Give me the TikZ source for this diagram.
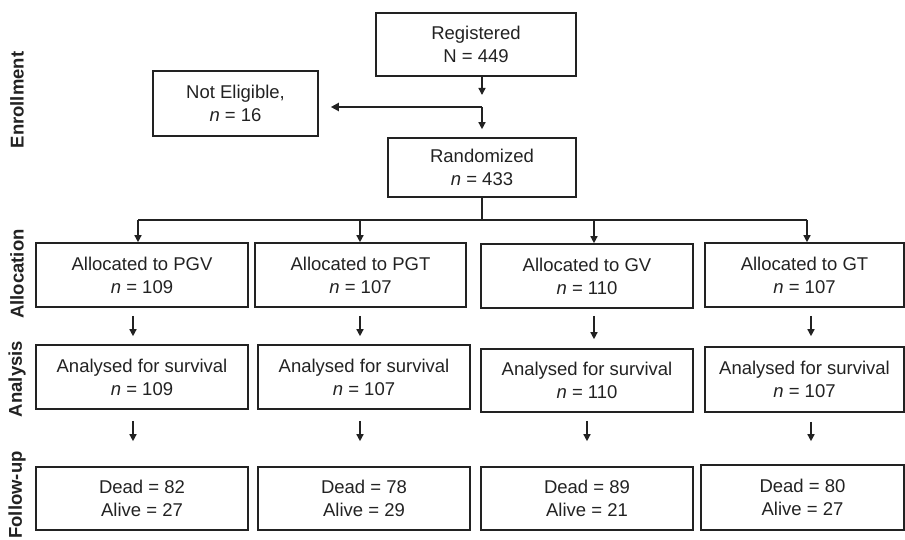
\documentclass[tikz,border=0pt]{standalone}
\usepackage{fontspec}
\setmainfont{Liberation Sans}
\usetikzlibrary{arrows.meta}
\definecolor{ink}{HTML}{222222}
\begin{document}
\begin{tikzpicture}[x=1pt,y=-1pt,
  box/.style={draw=ink, line width=1.6pt, inner sep=0pt, align=center,
    font=\fontsize{18.5}{23}\selectfont, text=ink},
  arr/.style={draw=ink, line width=1.4pt, -{Triangle[length=7pt,width=7pt]}},
  thickarr/.style={draw=ink, line width=2.8pt, -{Triangle[length=8pt,width=8pt]}},
  ln/.style={draw=ink, line width=1.4pt},
  side/.style={rotate=90, font=\fontsize{18.5}{22}\selectfont\bfseries, text=ink}]
\useasboundingbox (0,0) rectangle (905,540);

% side labels
\node[side] (lenr) at (17,100) {Enrollment};
\node[side] (lall) at (17,274) {Allocation};
\node[side] (lana) at (17,379) {Analysis};
\node[side] (lfol) at (17,495) {Follow-up};

% enrollment
\node[box, minimum width=200pt, minimum height=63pt] (reg) at (476,44.5) {Registered\\N = 449};
\node[box, minimum width=165pt, minimum height=65pt] (ne) at (235.5,103.5) {Not Eligible,\\\textit{n} = 16};
\node[box, minimum width=188pt, minimum height=59pt] (rand) at (482,167.5) {Randomized\\\textit{n} = 433};

\coordinate (j) at (482,107);
\draw[arr, shorten >=12pt] (reg.south -| j) -- (j);
\draw[thickarr, shorten >=12pt] (j) -- (ne.east |- j);
\draw[arr, shorten >=8pt] (j) -- (rand.north -| j);

% allocation
\node[box, minimum width=212pt, minimum height=64pt] (a1) at (142,275) {Allocated to PGV\\\textit{n} = 109};
\node[box, minimum width=211pt, minimum height=64pt] (a2) at (360.5,275) {Allocated to PGT\\\textit{n} = 107};
\node[box, minimum width=212pt, minimum height=64pt] (a3) at (587,276) {Allocated to GV\\\textit{n} = 110};
\node[box, minimum width=199pt, minimum height=64pt] (a4) at (804.5,275) {Allocated to GT\\\textit{n} = 107};

\coordinate (split) at (482,220);
\coordinate (d1) at (138,220);
\coordinate (d2) at (360,220);
\coordinate (d3) at (594,220);
\coordinate (d4) at (807,220);
\draw[ln] (rand.south -| split) -- (split);
\draw[ln] (d1) -- (d4);
\draw[arr] (d1) -- (d1 |- a1.north);
\draw[arr] (d2) -- (d2 |- a2.north);
\draw[arr] (d3) -- (d3 |- a3.north);
\draw[arr] (d4) -- (d4 |- a4.north);

% analysis
\node[box, minimum width=212pt, minimum height=64pt] (b1) at (142,377) {Analysed for survival\\\textit{n} = 109};
\node[box, minimum width=212pt, minimum height=64pt] (b2) at (364,377) {Analysed for survival\\\textit{n} = 107};
\node[box, minimum width=212pt, minimum height=63pt] (b3) at (587,380.5) {Analysed for survival\\\textit{n} = 110};
\node[box, minimum width=199pt, minimum height=65pt] (b4) at (804.5,379.5) {Analysed for survival\\\textit{n} = 107};

\draw[arr, shorten <=8pt, shorten >=8pt] ([xshift=-9pt]a1.south) -- ([xshift=-9pt]a1.south |- b1.north);
\draw[arr, shorten <=8pt, shorten >=8pt] ([xshift=-0.5pt]a2.south) -- ([xshift=-0.5pt]a2.south |- b2.north);
\draw[arr, shorten <=7pt, shorten >=9pt] ([xshift=7pt]a3.south) -- ([xshift=7pt]a3.south |- b3.north);
\draw[arr, shorten <=8pt, shorten >=10pt] ([xshift=6.5pt]a4.south) -- ([xshift=6.5pt]a4.south |- b4.north);

% follow-up
\node[box, minimum width=212pt, minimum height=63pt] (c1) at (142,498.5) {Dead = 82\\Alive = 27};
\node[box, minimum width=212pt, minimum height=63pt] (c2) at (364,498.5) {Dead = 78\\Alive = 29};
\node[box, minimum width=212pt, minimum height=63pt] (c3) at (587,498.5) {Dead = 89\\Alive = 21};
\node[box, minimum width=203pt, minimum height=65pt] (c4) at (802.5,497.5) {Dead = 80\\Alive = 27};

\draw[arr, shorten <=11pt, shorten >=25pt] ([xshift=-9pt]b1.south) -- ([xshift=-9pt]b1.south |- c1.north);
\draw[arr, shorten <=11pt, shorten >=25pt] ([xshift=-4pt]b2.south) -- ([xshift=-4pt]b2.south |- c2.north);
\draw[arr, shorten <=8pt, shorten >=25pt] (b3.south) -- (b3.south |- c3.north);
\draw[arr, shorten <=9pt, shorten >=23pt] ([xshift=6.5pt]b4.south) -- ([xshift=6.5pt]b4.south |- c4.north);
\end{tikzpicture}
\end{document}
